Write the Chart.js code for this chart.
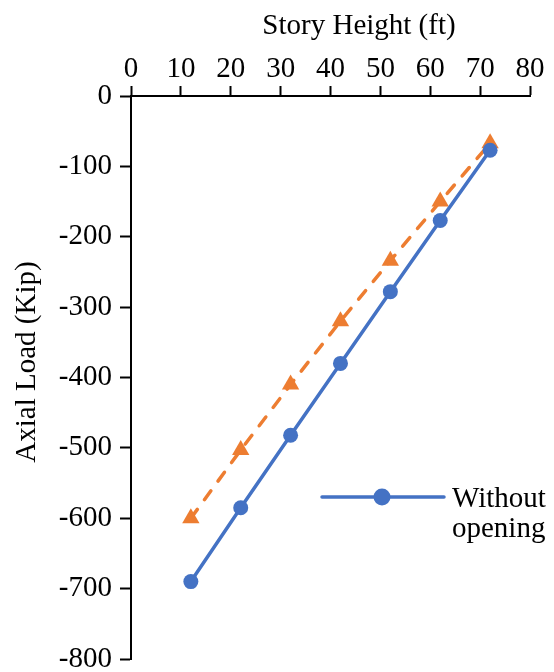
<!DOCTYPE html>
<html>
<head>
<meta charset="utf-8">
<script src="https://cdn.jsdelivr.net/npm/chart.js@4/dist/chart.umd.min.js"></script>
<style>
  html, body { margin: 0; padding: 0; background: #fff; }
  #wrap { width: 554px; height: 672px; }
</style>
</head>
<body>
<div id="wrap"><canvas id="chart"></canvas></div>
<script>
/*--- data ---*/
const storyHeight = [12, 22, 32, 42, 52, 62, 72];
const withoutOpening = [-690, -585, -482, -380, -278, -177, -77];
const withOpening = [-600, -503, -410, -320, -234, -150, -67];

const xTitle = 'Story Height (ft)';
const yTitle = 'Axial Load (Kip)';
const legendLines = ['Without', 'opening'];

const BLUE = '#4472C4';
const ORANGE = '#ED7D31';
const FONT = '"Liberation Serif", "Times New Roman", serif';
const FONT_SIZE = 29;

/*--- axis titles + legend drawn inside the plot, clipped on the right like the original ---*/
const extras = {
	id: 'extras',
	afterDraw(chart) {
		const ctx = chart.ctx;
		ctx.save();
		ctx.fillStyle = '#000';
		ctx.font = FONT_SIZE + 'px ' + FONT;
		ctx.textBaseline = 'alphabetic';

		// x title (top)
		ctx.textAlign = 'center';
		ctx.fillText(xTitle, 359, 34);

		// y title (rotated)
		ctx.save();
		ctx.translate(35, 362);
		ctx.rotate(-Math.PI / 2);
		ctx.fillText(yTitle, 0, 0);
		ctx.restore();

		// legend
		ctx.strokeStyle = BLUE;
		ctx.lineWidth = 3.5;
		ctx.lineCap = 'round';
		ctx.beginPath();
		ctx.moveTo(322, 497);
		ctx.lineTo(444, 497);
		ctx.stroke();
		ctx.fillStyle = BLUE;
		ctx.beginPath();
		ctx.arc(382, 497, 8.5, 0, Math.PI * 2);
		ctx.fill();
		ctx.fillStyle = '#000';
		ctx.textAlign = 'left';
		ctx.fillText(legendLines[0], 452, 507);
		ctx.fillText(legendLines[1], 452, 537);
		ctx.restore();
	}
};

const tickFont = { family: FONT, size: FONT_SIZE, lineHeight: 1 };

new Chart(document.getElementById('chart'), {
	type: 'line',
	data: {
		datasets: [{
			label: 'Without opening',
			data: storyHeight.map((x, i) => ({x: x, y: withoutOpening[i]})),
			borderColor: BLUE,
			backgroundColor: BLUE,
			borderWidth: 3.5,
			pointStyle: 'circle',
			pointRadius: 7.5,
			pointBorderWidth: 0,
			tension: 0,
		}, {
			label: 'With opening',
			data: storyHeight.map((x, i) => ({x: x, y: withOpening[i]})),
			borderColor: ORANGE,
			backgroundColor: ORANGE,
			borderWidth: 3.5,
			borderDash: [11, 12],
			borderCapStyle: 'round',
			pointStyle: 'triangle',
			pointRadius: 10,
			pointBorderWidth: 0,
			tension: 0,
		}],
	},
	options: {
		responsive: true,
		maintainAspectRatio: false,
		animation: false,
		layout: { padding: { left: 0, top: 0, right: 24, bottom: 13 } },
		plugins: {
			legend: { display: false },
			tooltip: { enabled: false },
		},
		scales: {
			x: {
				type: 'linear',
				position: 'top',
				min: 0,
				max: 80,
				ticks: { stepSize: 10, color: '#000', font: tickFont, padding: 2, maxRotation: 0 },
				grid: { display: true, drawOnChartArea: false, drawTicks: true, tickLength: 10, tickWidth: 2, color: '#000' },
				border: { display: true, color: '#000', width: 2 },
				afterFit: (scale) => {
					scale.height = 96;
					scale.paddingLeft = 0;
					scale.paddingRight = 0;
				},
			},
			y: {
				type: 'linear',
				min: -800,
				max: 0,
				ticks: { stepSize: 100, color: '#000', font: tickFont, padding: 8 },
				grid: { display: true, drawOnChartArea: false, drawTicks: true, tickLength: 11, tickWidth: 2, color: '#000' },
				border: { display: true, color: '#000', width: 2 },
				afterFit: (scale) => {
					scale.width = 131;
					scale.paddingTop = 0;
					scale.paddingBottom = 0;
				},
			},
		},
	},
	plugins: [extras],
});
</script>
</body>
</html>
